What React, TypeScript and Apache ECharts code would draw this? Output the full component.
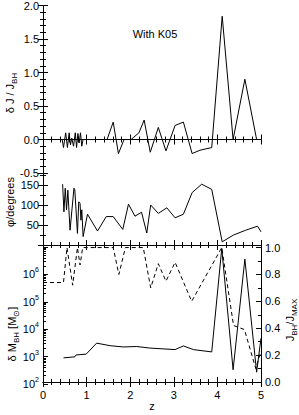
import React, { useEffect, useRef } from 'react';
import * as echarts from 'echarts';

// ---- data ----
// top panel: delta J / J_BH vs z
const zTop = [0, 0.44, 0.47, 0.52, 0.56, 0.60, 0.63, 0.66, 0.70, 0.74, 0.77, 0.80, 0.83, 0.86, 0.89, 0.92, 1.47, 1.61, 1.73, 1.86, 2.02, 2.20, 2.32, 2.46, 2.645, 2.82, 3.03, 3.22, 3.42, 3.60, 3.87, 4.11, 4.36, 4.63, 4.90];
const dJ = [0, 0, -0.12, 0.10, -0.12, 0.10, -0.08, 0.02, -0.10, 0.10, -0.12, 0.09, -0.05, 0.10, -0.10, 0, 0, 0.26, -0.21, 0, 0, 0.10, 0.29, -0.19, 0.18, -0.17, 0.21, 0.26, -0.21, -0.16, -0.12, 1.84, 0.0, 0.90, 0.0];

// middle panel: phi (degrees) vs z
const zMid = [0.45, 0.48, 0.51, 0.54, 0.57, 0.59, 0.62, 0.71, 0.73, 0.79, 0.82, 0.85, 0.87, 0.89, 0.92, 1.02, 1.25, 1.45, 1.61, 1.83, 1.96, 2.11, 2.26, 2.38, 2.47, 2.645, 2.84, 3.03, 3.22, 3.42, 3.64, 3.87, 4.11, 4.37, 4.65, 4.92, 5.0];
const phi = [152, 83, 142, 88, 137, 96, 37, 142, 138, 29, 108, 104, 62, 88, 21, 77, 35, 71, 71, 39, 102, 72, 82, 30, 100, 79, 93, 68, 77, 131, 152, 139, 8, 25, 37, 47, 33];

// bottom panel, solid: delta M_BH [M_sun] (log axis)
const zMass = [0.47, 0.73, 0.76, 0.85, 0.99, 1.23, 1.54, 1.84, 2.15, 2.45, 3.03, 3.22, 3.45, 3.87, 4.10, 4.36, 4.63, 4.90, 5.0];
const dMass = [900, 980, 1150, 1180, 1230, 3100, 2500, 2250, 2330, 2050, 1800, 2450, 1800, 1480, 8.8e6, 330, 3.6e6, 270, 4700];

// bottom panel, dashed: J_BH / J_MAX (right axis)
const zJ = [0, 0.47, 0.55, 0.68, 0.79, 0.85, 0.91, 1.61, 1.74, 1.89, 2.30, 2.47, 2.645, 2.82, 3.03, 3.41, 4.10, 4.37, 4.62, 4.88, 5.0];
const jRatio = [0.74, 0.74, 1.0, 0.72, 1.0, 0.87, 1.0, 1.0, 0.8, 1.0, 1.0, 0.70, 0.88, 0.75, 0.89, 0.6, 1.0, 0.42, 0.39, 0.1, 0.23];

// tick values
const logMajor = [1e2, 1e3, 1e4, 1e5, 1e6, 1e7];
const logLabels = [1e2, 1e3, 1e4, 1e5, 1e6];
const logMinor: number[] = [];
for (let e = 2; e <= 6; e++) for (let m = 2; m <= 9; m++) logMinor.push(m * Math.pow(10, e));
const rightMajor = [0, 0.2, 0.4, 0.6, 0.8, 1.0];
const rightMinor = [0.1, 0.3, 0.5, 0.7, 0.9];

const FONT = '"Liberation Sans", Arial, sans-serif';
const BLACK = '#000';

const axisLine = { show: true, lineStyle: { color: BLACK, width: 1 } };
const tick = (len: number) => ({ show: true, inside: true, length: len, lineStyle: { color: BLACK, width: 1 } });
const minor = (n: number) => ({ show: true, splitNumber: n, length: 3, lineStyle: { color: BLACK, width: 1 } });
const lbl = { color: BLACK, fontFamily: FONT, fontSize: 11 };

function xAxesFor(gi: number) {
  const base = {
    gridIndex: gi, type: 'value', min: 0, max: 5, interval: 1,
    axisLine, axisTick: tick(5), minorTick: minor(5),
    splitLine: { show: false }, minorSplitLine: { show: false },
  };
  return [
    { ...base, position: 'bottom', axisLabel: { show: gi === 2, ...lbl, margin: 5 } },
    { ...base, position: 'top', axisLabel: { show: false } },
  ];
}

export default function App() {
  const ref = useRef<HTMLDivElement>(null);
  useEffect(() => {
    const chart = echarts.init(ref.current!, null, { renderer: 'svg' });
    const sub = { fontSize: 8, lineHeight: 8, verticalAlign: 'bottom', fontFamily: FONT, fill: BLACK };
    const main = { fontSize: 11, lineHeight: 16, fontFamily: FONT, fill: BLACK };
    const option: any = {
      animation: false,
      backgroundColor: '#fff',
      grid: [
        { left: 43, right: 38, top: 5, height: 168 },
        { left: 43, right: 38, top: 173, height: 72 },
        { left: 43, right: 38, top: 245, height: 139 },
      ],
      xAxis: [...xAxesFor(0), ...xAxesFor(1), ...xAxesFor(2)],
      yAxis: [
        {
          gridIndex: 0, type: 'value', position: 'left', min: -0.5, max: 2.0, interval: 0.5,
          axisLine, axisTick: tick(5), minorTick: minor(5), splitLine: { show: false },
          axisLabel: { ...lbl, margin: 4, formatter: (v: number) => v.toFixed(1) },
        },
        {
          gridIndex: 0, type: 'value', position: 'right', min: -0.5, max: 2.0, interval: 0.5,
          axisLine, axisTick: tick(5), minorTick: minor(5), splitLine: { show: false },
          axisLabel: { show: false },
        },
        {
          gridIndex: 1, type: 'value', position: 'left', min: 0, max: 180, interval: 50,
          axisLine, axisTick: tick(5), minorTick: minor(2), splitLine: { show: false },
          axisLabel: { ...lbl, margin: 4, formatter: (v: number) => (v === 0 || v === 180 ? '' : String(v)) },
        },
        {
          gridIndex: 1, type: 'value', position: 'right', min: 0, max: 180, interval: 50,
          axisLine, axisTick: tick(5), minorTick: minor(2), splitLine: { show: false },
          axisLabel: { show: false },
        },
        {
          gridIndex: 2, type: 'log', logBase: 10, position: 'left', min: 100, max: 1.18e7,
          axisLine, splitLine: { show: false },
          axisTick: { ...tick(5), customValues: logMajor },
          axisLabel: {
            ...lbl, margin: 4, customValues: logLabels,
            formatter: (v: number) => '{b|10}{s|' + Math.round(Math.log10(v)) + '}',
            rich: {
              b: { fontSize: 11, lineHeight: 16, fontFamily: FONT, color: BLACK },
              s: { fontSize: 7, lineHeight: 8, verticalAlign: 'top', fontFamily: FONT, color: BLACK },
            },
          },
        },
        {
          gridIndex: 2, type: 'log', logBase: 10, position: 'left', min: 100, max: 1.18e7,
          axisLine: { show: false }, splitLine: { show: false },
          axisTick: { ...tick(3), customValues: logMinor },
          axisLabel: { show: false },
        },
        {
          gridIndex: 2, type: 'value', position: 'right', min: -0.015, max: 1.019,
          axisLine, splitLine: { show: false },
          axisTick: { ...tick(5), customValues: rightMajor },
          axisLabel: { ...lbl, margin: 4, customValues: rightMajor, formatter: (v: number) => v.toFixed(1) },
        },
        {
          gridIndex: 2, type: 'value', position: 'right', min: -0.015, max: 1.019,
          axisLine: { show: false }, splitLine: { show: false },
          axisTick: { ...tick(3), customValues: rightMinor },
          axisLabel: { show: false },
        },
      ],
      series: [
        {
          type: 'line', xAxisIndex: 0, yAxisIndex: 0, showSymbol: false, symbol: 'none',
          lineStyle: { color: BLACK, width: 1 }, data: zTop.map((z, i) => [z, dJ[i]]),
        },
        {
          type: 'line', xAxisIndex: 2, yAxisIndex: 2, showSymbol: false, symbol: 'none',
          lineStyle: { color: BLACK, width: 1 }, data: zMid.map((z, i) => [z, phi[i]]),
        },
        {
          type: 'line', xAxisIndex: 4, yAxisIndex: 4, showSymbol: false, symbol: 'none', clip: true,
          lineStyle: { color: BLACK, width: 1 }, data: zMass.map((z, i) => [z, dMass[i]]),
        },
        {
          type: 'line', xAxisIndex: 4, yAxisIndex: 6, showSymbol: false, symbol: 'none', clip: true,
          lineStyle: { color: BLACK, width: 1, type: [4, 3] }, data: zJ.map((z, i) => [z, jRatio[i]]),
        },
      ],
      graphic: [
        {
          type: 'text', x: 155, y: 34,
          style: { text: 'With K05', font: `11px ${FONT}`, fill: BLACK, align: 'center', verticalAlign: 'middle' },
        },
        {
          type: 'text', x: 152, y: 406,
          style: { text: 'z', font: `11px ${FONT}`, fill: BLACK, align: 'center', verticalAlign: 'middle' },
        },
        {
          type: 'text', x: 10, y: 93, rotation: Math.PI / 2,
          style: { text: '{m|δ J / J}{s|BH}', rich: { m: main, s: sub }, align: 'center', verticalAlign: 'middle' },
        },
        {
          type: 'text', x: 10, y: 202, rotation: Math.PI / 2,
          style: { text: '{m|φ/degrees}', rich: { m: main }, align: 'center', verticalAlign: 'middle' },
        },
        {
          type: 'text', x: 12, y: 334, rotation: Math.PI / 2,
          style: { text: '{m|δ M}{s|BH}{m| [M}{s|⊙}{m|]}', rich: { m: main, s: sub }, align: 'center', verticalAlign: 'middle' },
        },
        {
          type: 'text', x: 290, y: 320, rotation: Math.PI / 2,
          style: { text: '{m|J}{s|BH}{m|/J}{s|MAX}', rich: { m: main, s: sub }, align: 'center', verticalAlign: 'middle' },
        },
      ],
    };
    chart.setOption(option);
    return () => chart.dispose();
  }, []);
  return <div ref={ref} style={{ position: 'absolute', left: 0, top: 0, width: 299, height: 415 }} />;
}
